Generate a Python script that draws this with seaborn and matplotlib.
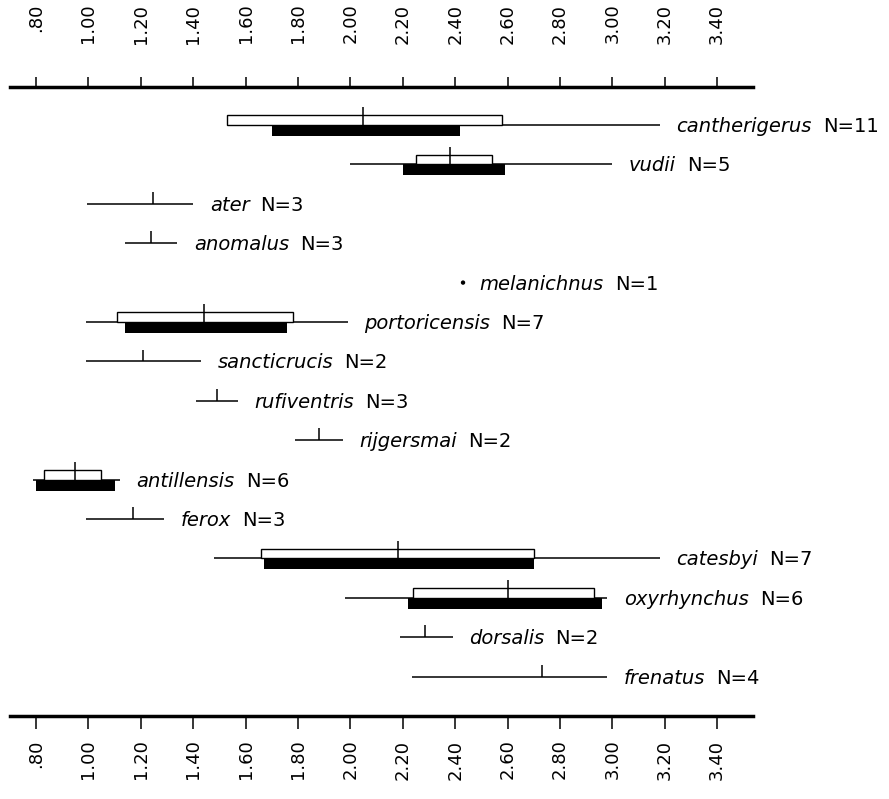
import numpy as np
import pandas as pd
import matplotlib
matplotlib.use("Agg")
import matplotlib.pyplot as plt
import seaborn as sns

# ---------------- data ----------------
species = ["cantherigerus", "vudii", "ater", "anomalus", "melanichnus",
           "portoricensis", "sancticrucis", "rufiventris", "rijgersmai",
           "antillensis", "ferox", "catesbyi", "oxyrhynchus", "dorsalis",
           "frenatus"]
n_obs = [11, 5, 3, 3, 1, 7, 2, 3, 2, 6, 3, 7, 6, 2, 4]
range_min = [1.53, 2.00, 0.995, 1.14, 2.43, 0.99, 0.99, 1.41, 1.79,
             0.79, 0.99, 1.48, 1.98, 2.19, 2.235]
range_max = [3.18, 3.00, 1.40, 1.34, 2.43, 1.99, 1.43, 1.57, 1.97,
             1.12, 1.29, 3.18, 2.98, 2.39, 2.98]
means = [2.05, 2.38, 1.245, 1.24, 2.43, 1.44, 1.21, 1.49, 1.88,
         0.95, 1.17, 2.18, 2.60, 2.285, 2.73]
nan = np.nan
sd_lo = [1.53, 2.25, nan, nan, nan, 1.11, nan, nan, nan, 0.83, nan, 1.66, 2.24, nan, nan]
sd_hi = [2.58, 2.54, nan, nan, nan, 1.78, nan, nan, nan, 1.05, nan, 2.70, 2.93, nan, nan]
se_lo = [1.70, 2.20, nan, nan, nan, 1.14, nan, nan, nan, 0.80, nan, 1.67, 2.22, nan, nan]
se_hi = [2.42, 2.59, nan, nan, nan, 1.76, nan, nan, nan, 1.10, nan, 2.70, 2.96, nan, nan]

tick_values = [0.80, 1.00, 1.20, 1.40, 1.60, 1.80, 2.00, 2.20, 2.40,
               2.60, 2.80, 3.00, 3.20, 3.40]
tick_labels = [".80", "1.00", "1.20", "1.40", "1.60", "1.80", "2.00", "2.20",
               "2.40", "2.60", "2.80", "3.00", "3.20", "3.40"]

# ---------------- style ----------------
sns.set_theme(style="white", rc={
    "axes.edgecolor": "black", "xtick.color": "black", "ytick.color": "black",
    "text.color": "black", "axes.labelcolor": "black"})
plt.rcParams["font.family"] = ["DejaVu Sans"]

df = pd.DataFrame({
    "species": species, "n": n_obs, "rmin": range_min, "rmax": range_max,
    "mean": means, "sd_lo": sd_lo, "sd_hi": sd_hi, "se_lo": se_lo, "se_hi": se_hi,
})
df["row"] = np.arange(len(df), dtype=float)

fig = plt.figure(figsize=(8.89, 7.99), dpi=100)
ax = fig.add_axes([0.01125, 0.1039, 0.8357, 0.7872])

# range lines
multi = df[df.rmin != df.rmax]
single = df[df.rmin == df.rmax]
ax.hlines(multi.row, multi.rmin, multi.rmax, color="black", lw=1.1, zorder=2)

# open boxes (above the line) and black boxes (below the line)
box = df.dropna(subset=["sd_lo"])
ax.barh(box.row - 0.125, box.sd_hi - box.sd_lo, left=box.sd_lo, height=0.25,
        facecolor="white", edgecolor="black", linewidth=1.0, zorder=3)
ax.barh(box.row + 0.14, box.se_hi - box.se_lo, left=box.se_lo, height=0.28,
        color="black", linewidth=0, zorder=3)

# mean ticks
tick_h = np.where(multi.sd_lo.notna(), 0.45, 0.3)
ax.vlines(multi["mean"], multi.row, multi.row - tick_h, color="black", lw=1.1, zorder=4)

# single observation as a dot
sns.scatterplot(data=single, x="mean", y="row", color="black", s=10,
                edgecolor="none", ax=ax, legend=False, zorder=4)

# labels
for r in df.itertuples():
    name = ax.annotate(r.species, xy=(r.rmax, r.row), xytext=(12, -5),
                       textcoords="offset points", fontsize=14, fontstyle="italic",
                       va="baseline", ha="left", annotation_clip=False)
    ax.annotate(f"N={r.n}", xy=(1, 0), xycoords=name, xytext=(8, 0),
                textcoords="offset points", fontsize=14, va="bottom", ha="left",
                annotation_clip=False)

ax.set_xlim(0.7008, 3.5366)
ax.set_ylim(15.0, -0.964)
ax.set_xlabel("")
ax.set_ylabel("")
ax.set_yticks([])

for s in ["left", "right", "top"]:
    ax.spines[s].set_visible(False)
ax.spines["bottom"].set_linewidth(2.5)

ax.set_xticks(tick_values, tick_labels)
ax.tick_params(axis="x", bottom=True, top=False, labelbottom=True, labeltop=False,
               direction="out", length=9, width=1.1, pad=8, labelsize=13,
               labelrotation=90)

secax = ax.secondary_xaxis("top")
secax.set_xticks(tick_values, tick_labels)
secax.tick_params(axis="x", top=True, labeltop=True, bottom=False, labelbottom=False,
                  direction="out", length=7, width=1.1, pad=53, labelsize=13,
                  labelrotation=90)
for t in secax.get_xticklabels():
    t.set_verticalalignment("top")
secax.spines["top"].set_linewidth(2.5)
secax.spines["top"].set_color("black")

fig.savefig("out.png", dpi=100, facecolor="white")
